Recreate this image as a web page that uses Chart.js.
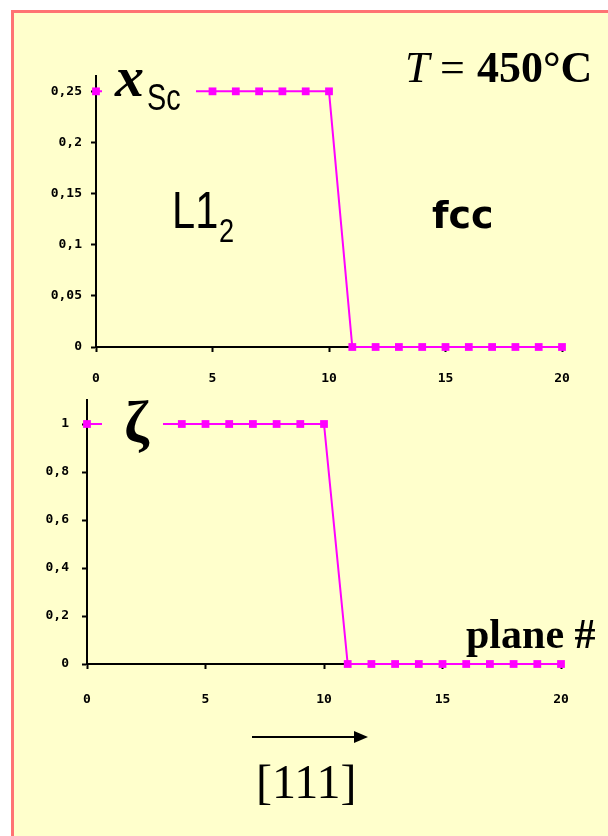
<!DOCTYPE html>
<html>
<head>
<meta charset="utf-8">
<script src="https://cdn.jsdelivr.net/npm/chart.js@4.4.0/dist/chart.umd.min.js"></script>
<style>
  html, body { margin: 0; padding: 0; background: #fff; }
  body { width: 608px; height: 836px; position: relative; overflow: hidden; }
  #sheet {
    position: absolute; left: 11px; top: 10px; right: 0; bottom: 0;
    background: #ffffcc;
    border-left: 3px solid #ff7373; border-top: 3px solid #ff7373;
  }
  .plot { position: absolute; left: 0; top: 0; width: 608px; height: 836px; }
</style>
</head>
<body>
<div id="sheet"></div>
<div class="plot"><canvas id="scChart" width="608" height="836"></canvas></div>
<div class="plot"><canvas id="zetaChart" width="608" height="836"></canvas></div>
<script>
// plane index along [111]
const planes = [0, 1, 2, 3, 4, 5, 6, 7, 8, 9, 10, 11, 12, 13, 14, 15, 16, 17, 18, 19, 20];
// Sc concentration per plane
const xSc = [0.25, 0.25, 0.25, 0.25, 0.25, 0.25, 0.25, 0.25, 0.25, 0.25, 0.25,
             0, 0, 0, 0, 0, 0, 0, 0, 0, 0];
// long range order parameter per plane
const zeta = [1, 1, 1, 1, 1, 1, 1, 1, 1, 1, 1,
              0, 0, 0, 0, 0, 0, 0, 0, 0, 0];

const planeTicks = [0, 5, 10, 15, 20];
const scTicks = [0, 0.05, 0.1, 0.15, 0.2, 0.25];
const zetaTicks = [0, 0.2, 0.4, 0.6, 0.8, 1];

const BG = '#ffffcc';
const PINK = '#ff00ff';
const tickFont = { family: '"DejaVu Sans Mono"', size: 13, weight: 'bold' };

function commaNum(v) {
    return String(+v.toFixed(2)).replace('.', ',');
}

function makeChart(id, values, yMax, yTicks, area, labelPad, notes) {
    const ctx = document.getElementById(id).getContext('2d');
    return new Chart(ctx, {
        type: 'line',
        data: {
            datasets: [{
                data: planes.map((p, i) => ({ x: p, y: values[i] })),
                borderColor: PINK,
                borderWidth: 2,
                pointStyle: 'rect',
                pointRadius: 5.5,
                pointBorderWidth: 0,
                pointBackgroundColor: PINK,
                tension: 0,
                clip: false
            }]
        },
        options: {
            responsive: false,
            animation: false,
            layout: {
                padding: {
                    left: 0,
                    top: area.top,
                    right: 608 - area.right,
                    bottom: 836 - area.bottom - 40
                }
            },
            scales: {
                x: {
                    type: 'linear',
                    min: 0,
                    max: 20,
                    afterBuildTicks: s => { s.ticks = planeTicks.map(v => ({ value: v })); },
                    afterFit: s => { s.height = 40; },
                    border: { color: '#000', width: 2 },
                    grid: { drawOnChartArea: false, color: '#000', tickLength: 5, tickWidth: 2 },
                    ticks: { color: '#000', font: tickFont, padding: labelPad.x, maxRotation: 0 }
                },
                y: {
                    min: 0,
                    max: yMax,
                    afterBuildTicks: s => { s.ticks = yTicks.map(v => ({ value: v })); },
                    afterFit: s => { s.width = area.left; },
                    border: { color: '#000', width: 2 },
                    grid: { drawOnChartArea: false, color: '#000', tickLength: 5, tickWidth: 2 },
                    ticks: { color: '#000', font: tickFont, padding: labelPad.y, callback: v => commaNum(v) }
                }
            },
            plugins: {
                legend: { display: false },
                tooltip: { enabled: false }
            }
        },
        plugins: [{ id: 'notes', afterDraw: c => notes(c.ctx) }]
    });
}

// labels and captions for the upper panel
function scNotes(ctx) {
    ctx.save();
    ctx.fillStyle = BG;
    ctx.fillRect(102, 66, 94, 50);
    ctx.fillStyle = '#000';
    ctx.textBaseline = 'alphabetic';
    ctx.font = 'bold italic 58px "Liberation Serif"';
    ctx.fillText('x', 115, 96);
    ctx.save();
    ctx.translate(147, 110);
    ctx.scale(0.8, 1);
    ctx.font = '36px "Liberation Sans"';
    ctx.fillText('Sc', 0, 0);
    ctx.restore();

    ctx.font = 'italic 44px "Liberation Serif"';
    ctx.fillText('T', 405, 82);
    ctx.font = '44px "Liberation Serif"';
    ctx.fillText('=', 440, 82);
    ctx.font = 'bold 44px "Liberation Serif"';
    ctx.fillText('450°C', 477, 82);

    ctx.save();
    ctx.translate(172, 228);
    ctx.scale(0.8, 1);
    ctx.font = '52px "Liberation Sans"';
    ctx.fillText('L1', 0, 0);
    ctx.restore();
    ctx.save();
    ctx.translate(219, 242);
    ctx.scale(0.8, 1);
    ctx.font = '34px "Liberation Sans"';
    ctx.fillText('2', 0, 0);
    ctx.restore();

    ctx.font = 'bold 38px "DejaVu Sans"';
    ctx.fillText('fcc', 432, 228);
    ctx.restore();
}

// labels and captions for the lower panel
function zetaNotes(ctx) {
    ctx.save();
    ctx.fillStyle = BG;
    ctx.fillRect(102, 395, 61, 65);
    ctx.fillStyle = '#000';
    ctx.textBaseline = 'alphabetic';
    ctx.font = 'bold 60px "Liberation Serif"';
    ctx.fillText('ζ', 124, 442);

    ctx.font = 'bold 42px "Liberation Serif"';
    ctx.fillText('plane #', 466, 648);

    // direction arrow
    ctx.strokeStyle = '#000';
    ctx.lineWidth = 2;
    ctx.beginPath();
    ctx.moveTo(252, 737);
    ctx.lineTo(360, 737);
    ctx.stroke();
    ctx.beginPath();
    ctx.moveTo(368, 737);
    ctx.lineTo(354, 731);
    ctx.lineTo(354, 743);
    ctx.closePath();
    ctx.fill();

    ctx.font = '48px "Liberation Serif"';
    ctx.fillText('[111]', 256, 798);
    ctx.restore();
}

makeChart('scChart', xSc, 0.265, scTicks,
    { left: 96, right: 562, top: 76, bottom: 347 }, { x: 19, y: 9 }, scNotes);
makeChart('zetaChart', zeta, 1.1, zetaTicks,
    { left: 87, right: 561, top: 400, bottom: 664 }, { x: 23, y: 13 }, zetaNotes);
</script>
</body>
</html>
